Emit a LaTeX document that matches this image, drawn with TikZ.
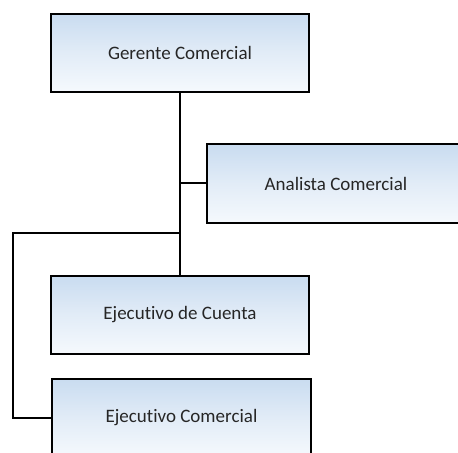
\documentclass[tikz,border=0pt]{standalone}
\usepackage{fontspec}
\setmainfont[Ligatures=NoCommon]{Carlito}
\begin{document}
\begin{tikzpicture}[x=1bp,y=-1bp,
  orgbox/.style={rectangle, draw=black, line width=2bp, minimum width=258bp, minimum height=78bp,
    top color=boxtop, bottom color=boxbottom, middle color=boxmid, text=black!85, font=\fontsize{19bp}{22bp}\selectfont, inner sep=0pt},
  link/.style={draw=black, line width=2bp}]
\definecolor{boxtop}{HTML}{C9DCF0}
\definecolor{boxmid}{HTML}{E2ECF7}
\definecolor{boxbottom}{HTML}{F5F9FD}
\useasboundingbox (0,0) rectangle (458,453);
\clip (0,0) rectangle (458,453);
\node[orgbox] (ger) at (180,53) {Gerente Comercial};
\node[orgbox] (ana) at (336,183.5) {Analista Comercial};
\node[orgbox] (cue) at (180,315) {Ejecutivo de Cuenta};
\node[orgbox] (com) at (181.5,418) {Ejecutivo Comercial};
\coordinate (j) at (180,233);
\coordinate (l) at (13,233);
\draw[link] (ger.south) -- (cue.north);
\draw[link] (ger.south |- ana.west) -- (ana.west);
\draw[link, line join=miter] (j) -- (l) |- (com.west);
\end{tikzpicture}
\end{document}
